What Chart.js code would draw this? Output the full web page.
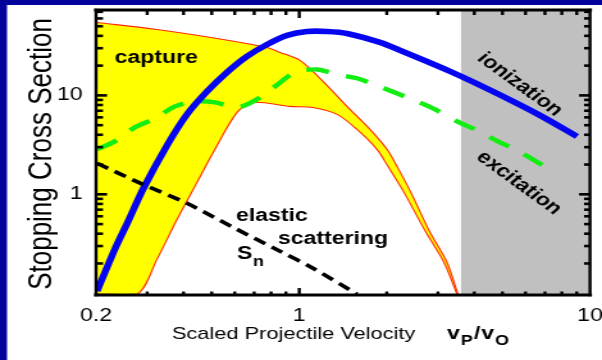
<!DOCTYPE html>
<html><head><meta charset="utf-8">
<script src="https://cdn.jsdelivr.net/npm/chart.js@4.4.0/dist/chart.umd.min.js"></script>
<style>
html,body{margin:0;padding:0;background:#fff;overflow:hidden;width:602px;height:360px}
#wrap{position:absolute;left:0;top:0;width:470px;height:360px;transform-origin:0 0;transform:scale(1.280851,1)}
</style></head><body>
<div id="wrap"><canvas id="c"></canvas></div>
<script>
// ---- data ----
const xTickLabels = [0.2, 1, 10];
const yTickLabels = [1, 10];
const xMinorTicks = [0.3,0.4,0.5,0.6,0.7,0.8,0.9,2,3,4,5,6,7,8,9];
const yMinorTicks = [0.2,0.3,0.4,0.5,0.6,0.7,0.8,0.9,2,3,4,5,6,7,8,9,20,30,40,50,60,70];
const grayRange = [3.6, 10];

const ionX = [0.2016,0.232,0.258,0.290,0.351,0.411,0.482,0.564,0.661,0.775,0.908,1.063,1.246,1.459,1.896,2.27,2.75,3.30,3.86,5.18,6.73,9.02];
const ionY = [0.105,0.278,0.534,1.123,3.13,6.43,10.97,17.1,24.8,32.7,40.4,44.3,44.3,42.3,34.3,27.8,22.0,17.5,14.18,9.33,6.28,3.85];

const excX = [0.2016,0.232,0.272,0.319,0.374,0.438,0.513,0.611,0.705,0.825,0.967,1.151,1.349,1.58,1.851,2.13,2.54,2.93,3.49,4.02,4.82,5.52,6.62,7.57];
const excY = [2.85,3.43,4.75,5.86,7.74,8.70,8.50,7.56,8.90,12.3,17.1,18.3,16.3,14.9,12.6,10.7,8.70,7.22,5.46,4.53,3.43,2.85,2.10,1.67];

const elaX = [0.2016,0.290,0.411,0.592,0.859,1.115,1.58];
const elaY = [2.06,1.26,0.811,0.464,0.266,0.179,0.098];

const capUpX = [0.2016,0.324,0.547,0.775,0.859,1.006,1.207,1.459,1.751,2.003,2.168,2.42,2.816,3.221,3.514];
const capUpY = [54.6,46.4,36.8,30.5,27.2,22.6,13.85,7.74,4.53,2.85,1.917,1.047,0.413,0.206,0.098];
const capLoX = [0.2,0.277,0.324,0.380,0.445,0.513,0.611,0.693,0.929,1.115,1.349,1.58,1.851,2.019,2.292,2.728,3.146,3.486];
const capLoY = [0.098,0.098,0.22,0.559,1.32,2.85,6.73,8.50,7.74,7.56,6.43,4.53,2.85,1.917,1.047,0.413,0.206,0.098];

// ---- rendering ----
const S = 602/470;               // horizontal stretch of the original picture
const zip = (xs, ys) => xs.map((x, i) => ({x: x, y: ys[i]}));
const FONT = '"Liberation Sans", Arial, Helvetica, sans-serif';

function line(ctx, x1, y1, x2, y2, w) {
  ctx.lineWidth = w; ctx.beginPath(); ctx.moveTo(x1, y1); ctx.lineTo(x2, y2); ctx.stroke();
}

const deco = {
  id: 'deco',
  beforeDraw(chart) {
    const {ctx, width, height, chartArea: a, scales: {x}} = chart;
    ctx.save();
    ctx.fillStyle = '#03039b'; ctx.fillRect(0, 0, width, height);
    ctx.fillStyle = '#ffffff'; ctx.fillRect(7 / S, 5, width, height);
    ctx.fillStyle = '#c0c0c0';
    const g0 = x.getPixelForValue(grayRange[0]), g1 = x.getPixelForValue(grayRange[1]);
    ctx.fillRect(g0, a.top, g1 - g0, a.bottom - a.top);
    ctx.restore();
  },
  afterDatasetsDraw(chart) {
    const {ctx, chartArea: a, scales: {x, y}} = chart;
    ctx.save();
    ctx.strokeStyle = '#000'; ctx.lineCap = 'butt';
    const xt = xMinorTicks.map(v => [v, false]).concat([[1, true]]);
    xt.forEach(([v, major]) => {
      const p = x.getPixelForValue(v);
      line(ctx, p, a.bottom, p, a.bottom - (major ? 7 : 3.5), 2.4);
      line(ctx, p, a.top, p, a.top + (major ? 8 : 5), 2.4);
    });
    const yt = yMinorTicks.map(v => [v, false]).concat([[1, true], [10, true]]);
    yt.forEach(([v, major]) => {
      const p = y.getPixelForValue(v);
      line(ctx, a.left, p, a.left + (major ? 11 : 7) / S, p, 2.6);
      line(ctx, a.right, p, a.right - (major ? 11 : 6) / S, p, 2.6);
    });
    ctx.lineCap = 'square';
    line(ctx, a.left, a.top, a.left, a.bottom, 2.4);
    line(ctx, a.right, a.top, a.right, a.bottom, 2.4);
    line(ctx, a.left, a.top, a.right, a.top, 3);
    line(ctx, a.left, a.bottom, a.right, a.bottom, 3);
    ctx.restore();
  },
  afterDraw(chart) {
    const {ctx, scales: {x, y}} = chart;
    ctx.save();
    ctx.fillStyle = '#000';
    ctx.textBaseline = 'alphabetic';
    const B = 'bold 18px ' + FONT;
    const at = (xv, yv) => [x.getPixelForValue(xv), y.getPixelForValue(yv)];
    ctx.textAlign = 'left';
    ctx.font = B;
    let p = at(0.232, 21.5); ctx.fillText('capture', p[0], p[1]);
    p = at(0.606, 0.533); ctx.fillText('elastic', p[0], p[1]);
    p = at(0.845, 0.3126); ctx.fillText('scattering', p[0], p[1]);
    p = at(0.611, 0.2205); ctx.fillText('S', p[0], p[1]);
    const sw = ctx.measureText('S').width;
    ctx.font = 'bold 14px ' + FONT;
    ctx.fillText('n', p[0] + sw + 0.5, p[1] + 7);
    const ang = Math.atan(Math.tan(36 * Math.PI / 180) * S);
    ctx.font = B; ctx.textAlign = 'center'; ctx.textBaseline = 'middle';
    [['ionization', 5.74, 12.9], ['excitation', 5.70, 1.30]].forEach(([t, xv, yv]) => {
      const q = at(xv, yv);
      ctx.save(); ctx.translate(q[0], q[1]); ctx.rotate(ang); ctx.fillText(t, 0, 0); ctx.restore();
    });
    ctx.textBaseline = 'alphabetic';
    ctx.save();
    ctx.translate(40, 154); ctx.rotate(-Math.PI / 2);
    ctx.font = '26px ' + FONT; ctx.textAlign = 'center';
    ctx.fillText('Stopping Cross Section', 0, 0);
    ctx.restore();
    ctx.textAlign = 'left';
    ctx.font = '17px ' + FONT;
    const by = 339;
    ctx.fillText('Scaled Projectile Velocity', 172 / S, by);
    let cx = 447 / S;
    const parts = [['v', 'bold 18px', 0], ['P', 'bold 14px', 6], ['/', 'bold 18px', 0], ['v', 'bold 18px', 0], ['O', 'bold 14px', 6]];
    parts.forEach(([t, f, dy]) => {
      ctx.font = f + ' ' + FONT;
      ctx.fillText(t, cx, by + dy);
      cx += ctx.measureText(t).width + 0.8;
    });
    ctx.restore();
  }
};

const common = {pointRadius: 0, pointHoverRadius: 0, tension: 0.3, fill: false};

new Chart(document.getElementById('c'), {
  type: 'line',
  data: {
    datasets: [
      Object.assign({}, common, {label: 'elastic scattering Sn', data: zip(elaX, elaY), borderColor: '#000000', borderWidth: 3.6, borderDash: [10, 6]}),
      Object.assign({}, common, {label: 'ionization', data: zip(ionX, ionY), borderColor: '#0505f0', borderWidth: 5.6}),
      Object.assign({}, common, {label: 'excitation', data: zip(excX, excY), borderColor: '#12ee12', borderWidth: 4.4, borderDash: [18, 14]}),
      Object.assign({}, common, {label: 'capture', data: zip(capUpX, capUpY), borderColor: '#ff2a00', borderWidth: 1.1, fill: '+1', backgroundColor: '#ffff00'}),
      Object.assign({}, common, {label: 'capture low', data: zip(capLoX, capLoY), borderColor: '#ff2a00', borderWidth: 1.1})
    ]
  },
  options: {
    responsive: true, maintainAspectRatio: false, animation: false,
    layout: {padding: {left: 0, top: 10, right: 470 - 590 / S, bottom: 0}},
    plugins: {legend: {display: false}, tooltip: {enabled: false}, filler: {drawTime: 'beforeDatasetsDraw'}},
    scales: {
      x: {
        type: 'logarithmic', position: 'bottom', min: 0.2, max: 10,
        grid: {display: false}, border: {display: false},
        ticks: {autoSkip: false, maxRotation: 0, padding: 2, color: '#000', font: {family: FONT, size: 18}, callback: v => String(v)},
        afterBuildTicks: s => { s.ticks = xTickLabels.map(v => ({value: v})); },
        afterFit: s => { s.height = 65; s.paddingLeft = 0; s.paddingRight = 0; }
      },
      y: {
        type: 'logarithmic', position: 'left', min: 0.096, max: 73,
        grid: {display: false}, border: {display: false},
        ticks: {autoSkip: false, padding: 2.5, color: '#000', font: {family: FONT, size: 18}, callback: v => String(v)},
        afterBuildTicks: s => { s.ticks = yTickLabels.map(v => ({value: v})); },
        afterFit: s => { s.width = 96 / S; s.paddingTop = 0; s.paddingBottom = 0; }
      }
    }
  },
  plugins: [deco]
});
</script>
</body></html>
